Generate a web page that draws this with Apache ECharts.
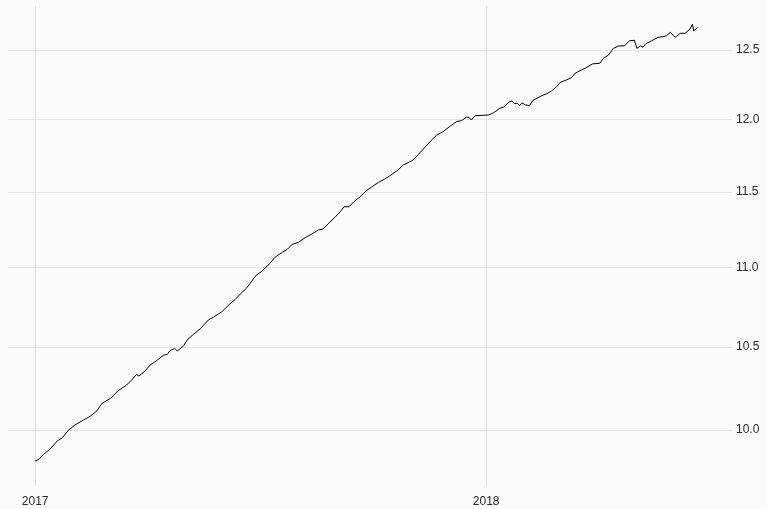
<!DOCTYPE html>
<html><head><meta charset="utf-8">
<script src="https://cdn.jsdelivr.net/npm/echarts@6/dist/echarts.min.js"></script>
<style>html,body{margin:0;padding:0;background:#fafafa}#c{width:767px;height:509px}</style>
</head><body><div id="c"></div>
<script>
const dates = ['2017-01-01','2017-01-04','2017-01-08','2017-01-13','2017-01-19','2017-01-23','2017-01-28','2017-02-02','2017-02-09','2017-02-15','2017-02-20','2017-02-24','2017-03-03','2017-03-09','2017-03-16','2017-03-20','2017-03-24','2017-03-26','2017-03-31','2017-04-04','2017-04-09','2017-04-15','2017-04-18','2017-04-20','2017-04-24','2017-04-26','2017-05-01','2017-05-04','2017-05-09','2017-05-15','2017-05-21','2017-05-25','2017-06-01','2017-06-08','2017-06-12','2017-06-16','2017-06-21','2017-06-29','2017-07-03','2017-07-10','2017-07-14','2017-07-20','2017-07-24','2017-07-28','2017-08-02','2017-08-08','2017-08-13','2017-08-18','2017-08-22','2017-08-26','2017-09-01','2017-09-05','2017-09-08','2017-09-12','2017-09-16','2017-09-21','2017-09-26','2017-09-30','2017-10-06','2017-10-11','2017-10-15','2017-10-21','2017-10-26','2017-11-02','2017-11-06','2017-11-11','2017-11-17','2017-11-22','2017-11-27','2017-12-03','2017-12-08','2017-12-12','2017-12-16','2017-12-18','2017-12-20','2017-12-23','2018-01-03','2018-01-07','2018-01-12','2018-01-16','2018-01-19','2018-01-22','2018-01-24','2018-01-26','2018-01-28','2018-01-30','2018-02-02','2018-02-05','2018-02-08','2018-02-12','2018-02-15','2018-02-19','2018-02-23','2018-02-27','2018-03-02','2018-03-07','2018-03-11','2018-03-14','2018-03-19','2018-03-23','2018-03-28','2018-04-03','2018-04-06','2018-04-10','2018-04-14','2018-04-18','2018-04-23','2018-04-27','2018-05-01','2018-05-03','2018-05-06','2018-05-08','2018-05-10','2018-05-15','2018-05-20','2018-05-24','2018-05-27','2018-05-30','2018-06-03','2018-06-07','2018-06-11','2018-06-15','2018-06-17','2018-06-18','2018-06-21'];
const values = [9.821,9.829,9.860,9.889,9.937,9.955,10.000,10.029,10.059,10.084,10.114,10.158,10.188,10.233,10.268,10.298,10.332,10.322,10.353,10.389,10.415,10.450,10.455,10.477,10.491,10.475,10.506,10.543,10.578,10.615,10.667,10.684,10.719,10.772,10.798,10.831,10.868,10.953,10.974,11.028,11.067,11.100,11.119,11.152,11.165,11.198,11.220,11.246,11.253,11.286,11.334,11.368,11.401,11.401,11.435,11.468,11.509,11.532,11.566,11.588,11.610,11.645,11.684,11.713,11.746,11.792,11.849,11.891,11.914,11.954,11.985,11.992,12.016,12.016,11.997,12.027,12.032,12.048,12.079,12.091,12.122,12.131,12.112,12.115,12.098,12.117,12.103,12.098,12.136,12.155,12.169,12.183,12.203,12.233,12.265,12.282,12.298,12.330,12.354,12.371,12.398,12.403,12.439,12.463,12.512,12.529,12.531,12.568,12.571,12.512,12.531,12.520,12.544,12.568,12.593,12.598,12.605,12.630,12.593,12.623,12.623,12.655,12.690,12.640,12.665];
const yTicks = [10.0, 10.5, 11.0, 11.5, 12.0, 12.5];
const xTicks = ['2017-01-01', '2018-01-01'];
const xMin = '2016-12-10', xMax = '2018-07-19';
const yMin = 9.677, yMax = 12.827;

const chart = echarts.init(document.getElementById('c'), null, {renderer: 'canvas'});
const font = 'Liberation Sans, Arial, sans-serif';
const xTickVals = xTicks.map(d => Date.parse(d));
const yTickVals = yTicks.map(v => Math.log(v));
chart.setOption({
  backgroundColor: '#fafafa',
  animation: false,
  grid: {left: 8, right: 35, top: 6, bottom: 23, containLabel: false, outerBoundsMode: 'none'},
  xAxis: {
    type: 'value',
    min: Date.parse(xMin), max: Date.parse(xMax),
    axisLine: {show: false},
    axisTick: {show: false, customValues: xTickVals},
    axisLabel: {customValues: xTickVals, color: '#2b2b2b', fontSize: 12, fontFamily: font, margin: 10,
      formatter: v => String(new Date(v).getUTCFullYear())},
    splitLine: {show: true, lineStyle: {color: '#e2e2e2', width: 1}}
  },
  yAxis: {
    type: 'value',
    position: 'right',
    min: Math.log(yMin), max: Math.log(yMax),
    axisLine: {show: false},
    axisTick: {show: false, customValues: yTickVals},
    axisLabel: {customValues: yTickVals, color: '#2b2b2b', fontSize: 12, fontFamily: font, margin: 4,
      formatter: v => Math.exp(v).toFixed(1)},
    splitLine: {show: true, lineStyle: {color: '#e6e6e6', width: 1}}
  },
  series: [{
    type: 'line',
    data: dates.map((d, i) => [Date.parse(d), Math.log(values[i])]),
    showSymbol: false,
    symbol: 'none',
    lineStyle: {color: '#000', width: 1},
    silent: true
  }]
});
</script>
</body></html>
